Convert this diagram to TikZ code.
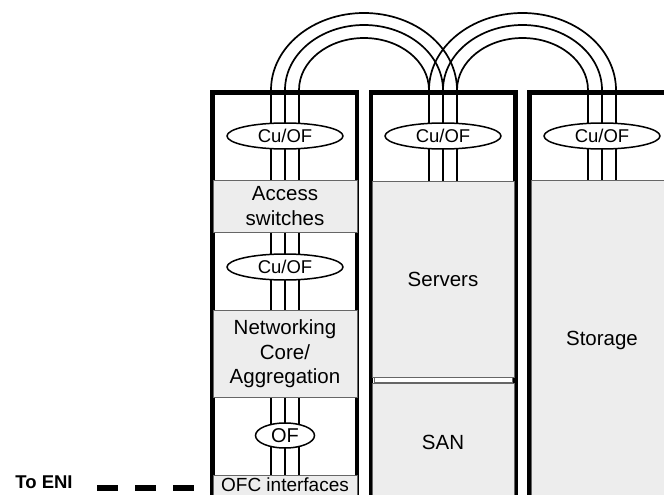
\documentclass[tikz,border=0pt]{standalone}
\usepackage{fontspec}
\setmainfont{Liberation Sans}
\usetikzlibrary{shapes.geometric}
\begin{document}
\begin{tikzpicture}[x=1pt,y=-1pt,
  rackfill/.style={fill=white},
  rackborder/.style={draw=black,line width=4.5pt},
  graybox/.style={draw=black!60,line width=1pt,fill=black!7,rectangle,inner sep=0pt,
    align=center,font=\fontsize{20.5}{24.5}\selectfont},
  bar/.style={draw=black!60,line width=1pt,fill=white,rectangle,inner sep=0pt},
  cable/.style={draw=black,line width=1.7pt},
  tag/.style={ellipse,draw=black,line width=1.5pt,fill=white,inner sep=0pt,
    minimum width=116pt,minimum height=26pt,font=\fontsize{18.5}{20}\selectfont},
  enidash/.style={draw=black,line width=5.5pt,dash pattern=on 21pt off 17pt}]
\clip (0,0) rectangle (664,495);
\fill[white] (0,0) rectangle (664,495);
% racks
\path[rackfill] (212.25,92.25) rectangle (356.75,497);
\path[rackfill] (371,92.25) rectangle (515.5,497);
\path[rackfill] (529.5,92.25) rectangle (676,497);
\draw[rackborder] (212.25,92.25) rectangle (356.75,497);
\draw[rackborder] (371,92.25) rectangle (515.5,497);
\draw[rackborder] (529.5,92.25) rectangle (676,497);
% boxes
\node[graybox,minimum width=144pt,minimum height=52pt] (acc) at (285,206) {Access\\switches};
\node[graybox,minimum width=144pt,minimum height=87pt] (net) at (285,354) {Networking\\Core/\\Aggregation};
\node[graybox,minimum width=144pt,minimum height=26pt] (ofc) at (285,488) {};
\node[inner sep=0pt,font=\fontsize{19}{22}\selectfont] (ofct) at (285,484.5) {OFC interfaces};
\node[graybox,minimum width=142pt,minimum height=196pt] (srv) at (443,279) {Servers};
\node[bar,minimum width=138pt,minimum height=5pt] (sep) at (443,379.5) {};
\node[graybox,minimum width=142pt,minimum height=118pt] (san) at (443,442) {SAN};
\node[graybox,minimum width=142pt,minimum height=320pt] (sto) at (602,340) {Storage};
% cable tops
\coordinate (a1) at (271,90);
\coordinate (a2) at (285,90);
\coordinate (a3) at (299,90);
\coordinate (b1) at (429,90);
\coordinate (b2) at (443,90);
\coordinate (b3) at (457,90);
\coordinate (c1) at (588,90);
\coordinate (c2) at (602,90);
\coordinate (c3) at (616,90);
% arcs
\draw[cable] (a1) arc[start angle=180,end angle=0,x radius=93pt,y radius=77pt];
\draw[cable] (a2) arc[start angle=180,end angle=0,x radius=79pt,y radius=65pt];
\draw[cable] (a3) arc[start angle=180,end angle=0,x radius=65pt,y radius=52pt];
\draw[cable] (b1) arc[start angle=180,end angle=0,x radius=93.5pt,y radius=77pt];
\draw[cable] (b2) arc[start angle=180,end angle=0,x radius=79.5pt,y radius=65pt];
\draw[cable] (b3) arc[start angle=180,end angle=0,x radius=65.5pt,y radius=52pt];
% vertical cables
\foreach \c in {a1,a2,a3} {
  \draw[cable] (\c) -- (\c |- acc.north);
  \draw[cable] (\c |- acc.south) -- (\c |- net.north);
  \draw[cable] (\c |- net.south) -- (\c |- ofc.north);
}
\foreach \c in {b1,b2,b3} { \draw[cable] (\c) -- (\c |- srv.north); }
\foreach \c in {c1,c2,c3} { \draw[cable] (\c) -- (\c |- sto.north); }
% tags
\node[tag] (t1) at (285,136) {Cu/OF};
\node[tag] (t2) at (285,267) {Cu/OF};
\node[tag,minimum width=59pt,minimum height=25pt,font=\fontsize{20}{22}\selectfont] (t3) at (285,435.5) {OF};
\node[tag] (t4) at (443,136) {Cu/OF};
\node[tag] (t5) at (602,136) {Cu/OF};
% To ENI
\node[font=\bfseries\fontsize{18.5}{20}\selectfont,inner sep=0pt] (eni) at (44,482) {To ENI};
\coordinate (d1) at (97,488);
\draw[enidash,shorten >=18pt] (d1) -- (d1 -| ofc.west);
\end{tikzpicture}
\end{document}
